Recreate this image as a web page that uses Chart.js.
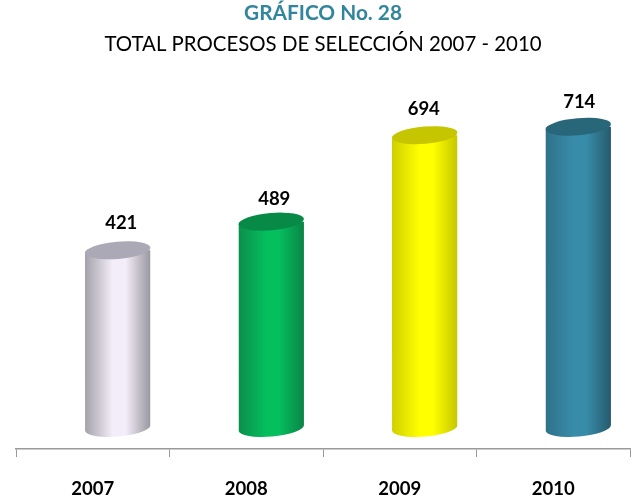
<!DOCTYPE html>
<html><head><meta charset="utf-8">
<style>html,body{margin:0;padding:0;background:#fff}canvas{display:block}</style>
<script src="https://cdn.jsdelivr.net/npm/chart.js@4"></script>
</head><body><canvas id="c" width="642" height="499"></canvas>
<script>
const categories = ['2007','2008','2009','2010'];
const values = [421,489,694,714];
const edgeLeft = ['#a3a1aa','#0b8f4c','#cfcf00','#2f7189'];
const centers  = ['#f3edf9','#05be5e','#ffff00','#388ca9'];
const edgeRight= ['#98969f','#0a8446','#c6c600','#265a6d'];
const tops     = ['#aca9b6','#078a45','#c5c500','#286779'];
const titleText = 'GRÁFICO No. 28';
const subtitleText = 'TOTAL PROCESOS DE SELECCIÓN 2007 - 2010';
const labelNudgeX = [3.5,3,-1,1];
const labelNudgeY = [0,4,1,2];
const FONT = 'Lato, "Open Sans", sans-serif';
const SHIFT = 25, RX = 32.8, RY = 8.6, TILT = -0.085;

function barGradient(context){
  const chart = context.chart;
  if(!chart.chartArea) return centers[context.dataIndex];
  const i = context.dataIndex;
  const cx = chart.scales.x.getPixelForValue(i);
  const g = chart.ctx.createLinearGradient(cx-RX,0,cx+RX,0);
  g.addColorStop(0,edgeLeft[i]);
  g.addColorStop(0.42,centers[i]);
  g.addColorStop(0.62,centers[i]);
  g.addColorStop(1,edgeRight[i]);
  return g;
}

const cylinder = {
  id:'cylinder',
  beforeDatasetDraw(chart,args){
    const ctx = chart.ctx, meta = args.meta, y0 = chart.scales.y.getPixelForValue(0);
    ctx.save();
    ctx.translate(SHIFT,0);
    ctx.beginPath();
    meta.data.forEach(el=>{
      ctx.moveTo(el.x-RX,el.y);
      ctx.ellipse(el.x,el.y,RX,RY,TILT,Math.PI,2*Math.PI,false);
      ctx.ellipse(el.x,y0,RX,RY,TILT,0,Math.PI,false);
      ctx.closePath();
    });
    ctx.clip();
  },
  afterDatasetDraw(chart,args){
    const ctx = chart.ctx, meta = args.meta;
    ctx.restore();
    ctx.save();
    ctx.translate(SHIFT,0);
    meta.data.forEach((el,i)=>{
      ctx.beginPath();
      ctx.ellipse(el.x,el.y,RX,RY,TILT,0,2*Math.PI);
      ctx.fillStyle = tops[i];
      ctx.fill();
      ctx.fillStyle = '#000';
      ctx.font = 'bold 18.5px '+FONT;
      ctx.textAlign='center';
      ctx.textBaseline='middle';
      ctx.fillText(String(values[i]),el.x+labelNudgeX[i],el.y-27+labelNudgeY[i]);
    });
    ctx.restore();
  }
};

new Chart(document.getElementById('c'),{
  type:'bar',
  data:{labels:categories,datasets:[{
    data:values,
    base:-24,
    backgroundColor:barGradient,
    borderWidth:0,
    categoryPercentage:1,
    barPercentage:0.427
  }]},
  plugins:[cylinder],
  options:{
    responsive:false,
    animation:false,
    layout:{padding:{left:16,right:12,top:0,bottom:0}},
    plugins:{
      legend:{display:false},
      tooltip:{enabled:false},
      title:{display:true,text:titleText,color:'#31859c',font:{family:FONT,size:20.8,weight:'bold',lineHeight:1.2},padding:{top:1,bottom:6}},
      subtitle:{display:true,text:subtitleText,color:'#000',font:{family:FONT,size:20.4,weight:'normal',lineHeight:1.2},padding:{top:0,bottom:34}}
    },
    scales:{
      x:{
        offset:true,
        afterFit(s){s.height=50;},
        grid:{display:true,drawOnChartArea:false,drawTicks:true,tickLength:8,color:'#9a9a9a',offset:true},
        border:{display:true,color:'#9a9a9a',width:1.5},
        ticks:{color:'#000',padding:21,font:{family:FONT,size:18.5,weight:'bold'},maxRotation:0}
      },
      y:{display:false,min:-50,max:800}
    }
  }
});
</script></body></html>
